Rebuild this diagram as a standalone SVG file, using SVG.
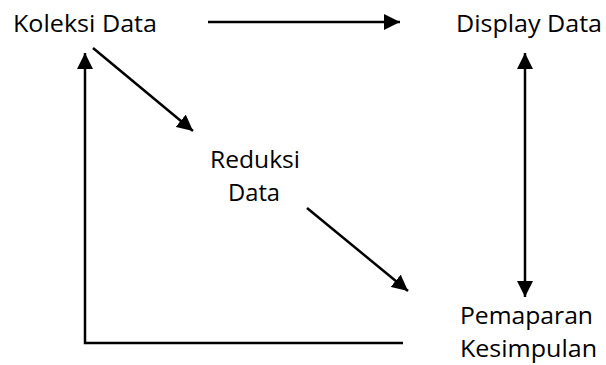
<svg xmlns="http://www.w3.org/2000/svg" width="606" height="365" viewBox="0 0 606 365">
  <style>
    .lbl { font-family: "Open Sans", "Noto Sans", sans-serif; font-size: 24px; fill: #000; }
    .conn { stroke: #000; stroke-width: 2.5; fill: none; }
  </style>
  <defs>
    <marker id="ah" markerUnits="userSpaceOnUse" markerWidth="16" markerHeight="16" viewBox="0 0 16 16" refX="16" refY="8" orient="auto">
      <path d="M0,0 L16,8 L0,16 Z" fill="#000"/>
    </marker>
  </defs>
  <rect width="606" height="365" fill="#fff"/>
  <g id="connectors">
    <line class="conn" x1="208" y1="22" x2="400" y2="22" marker-end="url(#ah)"/>
    <line class="conn" x1="93" y1="48" x2="193" y2="131" marker-end="url(#ah)"/>
    <line class="conn" x1="307" y1="208" x2="408" y2="291" marker-end="url(#ah)"/>
    <line class="conn" x1="525" y1="170" x2="525" y2="53" marker-end="url(#ah)"/>
    <line class="conn" x1="525" y1="170" x2="525" y2="297" marker-end="url(#ah)"/>
    <polyline class="conn" points="403,343 85,343 85,53" marker-end="url(#ah)"/>
  </g>
  <g id="koleksi">
    <text class="lbl" x="13" y="32" textLength="144" lengthAdjust="spacingAndGlyphs">Koleksi Data</text>
  </g>
  <g id="display">
    <text class="lbl" x="456" y="32" textLength="146" lengthAdjust="spacingAndGlyphs">Display Data</text>
  </g>
  <g id="reduksi">
    <text class="lbl" x="210" y="168" textLength="90" lengthAdjust="spacingAndGlyphs">Reduksi</text>
    <text class="lbl" x="228" y="201" textLength="52" lengthAdjust="spacingAndGlyphs">Data</text>
  </g>
  <g id="pemaparan">
    <text class="lbl" x="460" y="324" textLength="133" lengthAdjust="spacingAndGlyphs">Pemaparan</text>
    <text class="lbl" x="460" y="357" textLength="137" lengthAdjust="spacingAndGlyphs">Kesimpulan</text>
  </g>
</svg>
